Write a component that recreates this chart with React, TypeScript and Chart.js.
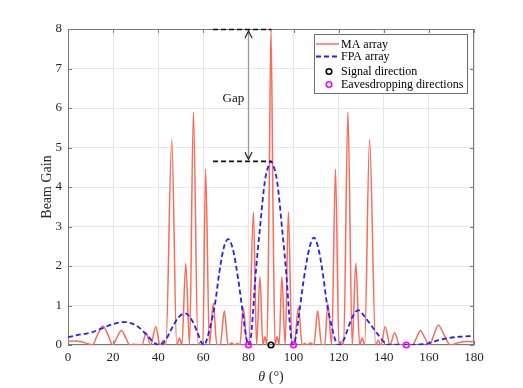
import React, { useEffect, useRef } from "react";
import { Chart, registerables } from "chart.js";

Chart.register(...registerables);

// ---- data ----
const MA_THETA = [
  0, 3, 6, 9, 10.8, 13, 15.5, 17.8, 19.8, 21.6, 23.7, 25.6, 27.3, 29, 31, 32.8,
  34.6, 36.7, 38.9, 40.8, 42.3, 43.4, 46.0, 48.2, 49.4, 50.5, 52.2, 53.9, 55.6, 57.6,
  58.8, 59.8, 61.0, 62.7, 64.4, 66.0, 67.5, 69.3, 71.0, 72.5, 74.0, 75.0, 76.2, 77.7,
  79.4, 80.2, 82.2, 83.6, 85.1, 86.4, 87.3, 88.2, 89.1, 90, 90.9, 91.8, 92.7, 93.6,
  94.8, 96.3, 97.7, 99.3, 100.2, 102.2, 103.8, 105.0, 106.0, 107.5, 109.0, 110.7,
  112.4, 113.8, 115.2, 116.9, 118.6, 120.1, 121.1, 122.2, 124.1, 126.0, 127.6, 129.3,
  130.4, 131.5, 133.7, 136.4, 137.5, 138.8, 140.6, 142.8, 144.8, 147.0, 149.0, 151.0,
  152.7, 154.5, 156.2, 158.2, 160.2, 162.2, 164.2, 166.8, 169.5, 172, 175, 177.5, 180,
];
const MA_GAIN = [
  0.09, 0.1, 0.08, 0.03, 0, 0.25, 0.48, 0.25, 0, 0.18, 0.37, 0.18, 0, 0.02, 0.01, 0,
  0.31, 0, 0.46, 0, 0.12, 0, 5.2, 0, 0.18, 0, 2.07, 0, 5.9, 0,
  0.08, 0, 4.45, 0, 1.05, 0, 0, 0.86, 0, 0.05, 0, 0.04, 0, 0.95,
  0, 0, 3.37, 0, 1.73, 0, 0.21, 0, 3.4, 8.0, 3.4, 0, 0.21, 0,
  1.73, 0, 3.37, 0, 0, 0.95, 0, 0.04, 0, 0.05, 0, 0.86,
  0, 0, 1.05, 0, 4.45, 0, 0.08, 0, 5.9, 0, 2.07, 0,
  0.18, 0, 5.2, 0, 0.12, 0, 0.46, 0, 0.31, 0, 0.01, 0.02,
  0, 0.18, 0.37, 0.18, 0, 0.25, 0.5, 0.25, 0, 0.04, 0.08, 0.09, 0.08,
];
const FPA_THETA = [
  0, 5, 10, 15, 20, 25, 29, 32, 35, 38, 40.5, 43, 46, 49, 52, 55, 57.5, 59, 60.2,
  61, 63, 65.2, 67, 69, 71, 73, 75.5, 77.5, 79, 80, 81, 82, 83, 85, 87.3, 89, 90,
  91, 92.7, 95, 97, 98, 99, 100, 101, 102.5, 104.5, 107, 109, 111, 113, 114.8, 117,
  119, 120.3, 122, 124, 126, 128.7, 131.5, 135, 138, 140, 141.5, 145, 150, 155, 159,
  163, 168, 174, 180,
];
const FPA_GAIN = [
  0.2, 0.26, 0.31, 0.42, 0.53, 0.58, 0.53, 0.42, 0.25, 0.07, 0, 0.1, 0.42, 0.7, 0.8, 0.62, 0.3, 0.08, 0,
  0.05, 0.45, 1.05, 1.8, 2.45, 2.68, 2.45, 1.65, 0.8, 0.2, 0, 0.15, 0.8, 1.65, 2.9, 4.15, 4.55, 4.65,
  4.55, 4.15, 2.9, 1.65, 0.8, 0.15, 0, 0.2, 0.8, 1.65, 2.45, 2.72, 2.45, 1.8, 1.05, 0.45,
  0.05, 0, 0.1, 0.4, 0.7, 0.88, 0.72, 0.45, 0.22, 0.08, 0.01, 0.01, 0, 0.01, 0.03,
  0.1, 0.17, 0.21, 0.23,
];
const SIGNAL_THETA = [90];
const SIGNAL_GAIN = [0];
const EAVES_THETA = [80, 100, 150];
const EAVES_GAIN = [0, 0, 0];
const X_TICKS = [0, 20, 40, 60, 80, 100, 120, 140, 160, 180];
const Y_TICKS = [0, 1, 2, 3, 4, 5, 6, 7, 8];
const GAP_TOP = 8;
const GAP_LOW = 4.65;
const GAP_FROM = 64.3;
const GAP_TO = 90.2;
const GAP_ARROW_AT = 79.8;
const GAP_LABEL_AT = [73.3, 6.23];
const LEGEND_LABELS = ["MA array", "FPA array", "Signal direction", "Eavesdropping directions"];
const X_TITLE = ["θ", " (°)"];
const Y_TITLE = "Beam Gain";

// ---- styles ----
const RED = "#fb6b58";
const BLUE = "#1f1fff";
const MAGENTA = "#ff00ff";
const AXIS = "#7a7a7a";
const GRID = "#e6e6e6";
const TXT = "#262626";
const SERIF = "'Liberation Serif', 'Times New Roman', serif";

const pts = (xs: number[], ys: number[]) => xs.map((x, i) => ({ x, y: ys[i] }));

const decor = {
  id: "decor",
  beforeDatasetsDraw(chart: any) {
    const { ctx, chartArea: a, scales } = chart;
    const x = scales.x, y = scales.y;
    ctx.save();
    ctx.strokeStyle = AXIS;
    ctx.lineWidth = 1;
    ctx.beginPath();
    for (const v of X_TICKS) {
      const px = Math.round(x.getPixelForValue(v)) + 0.5;
      ctx.moveTo(px, a.bottom);
      ctx.lineTo(px, a.bottom - 4);
      ctx.moveTo(px, a.top);
      ctx.lineTo(px, a.top + 4);
    }
    for (const v of Y_TICKS) {
      const py = Math.round(y.getPixelForValue(v)) + 0.5;
      ctx.moveTo(a.left, py);
      ctx.lineTo(a.left + 4, py);
      ctx.moveTo(a.right, py);
      ctx.lineTo(a.right - 4, py);
    }
    ctx.stroke();
    ctx.strokeRect(a.left + 0.5, a.top + 0.5, a.right - a.left - 1, a.bottom - a.top - 1);
    ctx.restore();
  },
  afterDatasetsDraw(chart: any) {
    const { ctx, chartArea: a, scales } = chart;
    const x = scales.x, y = scales.y;
    ctx.save();
    // gap dashed lines
    const x0 = x.getPixelForValue(GAP_FROM);
    const x1 = x.getPixelForValue(GAP_TO);
    const yt = y.getPixelForValue(GAP_TOP);
    const yl = y.getPixelForValue(GAP_LOW);
    ctx.strokeStyle = "#111";
    ctx.lineWidth = 1.6;
    ctx.setLineDash([5, 3]);
    ctx.beginPath();
    ctx.moveTo(x0, yt + 0.5);
    ctx.lineTo(x1, yt + 0.5);
    ctx.moveTo(x0, yl);
    ctx.lineTo(x1, yl);
    ctx.stroke();
    ctx.setLineDash([]);
    // double arrow
    const xa = Math.round(x.getPixelForValue(GAP_ARROW_AT)) + 0.5;
    ctx.strokeStyle = "#9a9a9a";
    ctx.lineWidth = 1.3;
    ctx.beginPath();
    ctx.moveTo(xa, yt + 2);
    ctx.lineTo(xa, yl - 2);
    ctx.stroke();
    ctx.strokeStyle = "#222";
    ctx.lineWidth = 1.2;
    ctx.beginPath();
    ctx.moveTo(xa - 3.5, yt + 9);
    ctx.lineTo(xa, yt + 2);
    ctx.lineTo(xa + 3.5, yt + 9);
    ctx.moveTo(xa - 3.5, yl - 9);
    ctx.lineTo(xa, yl - 2);
    ctx.lineTo(xa + 3.5, yl - 9);
    ctx.stroke();
    // Gap label
    ctx.fillStyle = "#111";
    ctx.font = `13px ${SERIF}`;
    ctx.textAlign = "center";
    ctx.textBaseline = "middle";
    ctx.fillText("Gap", x.getPixelForValue(GAP_LABEL_AT[0]), y.getPixelForValue(GAP_LABEL_AT[1]));

    // legend
    const bx = 314, by = 34, bw = 153, bh = 59;
    ctx.fillStyle = "#fff";
    ctx.fillRect(bx, by, bw, bh);
    ctx.strokeStyle = "#6f6f6f";
    ctx.lineWidth = 1;
    ctx.strokeRect(bx + 0.5, by + 0.5, bw, bh);
    const rows = [44, 56.5, 71.5, 84.5];
    const lx0 = 316, lx1 = 339, mx = 329, tx = 341;
    ctx.lineWidth = 1.5;
    ctx.strokeStyle = RED;
    ctx.beginPath();
    ctx.moveTo(lx0, rows[0]);
    ctx.lineTo(lx1, rows[0]);
    ctx.stroke();
    ctx.strokeStyle = BLUE;
    ctx.lineWidth = 1.8;
    ctx.setLineDash([5, 3]);
    ctx.beginPath();
    ctx.moveTo(lx0, rows[1]);
    ctx.lineTo(lx1, rows[1]);
    ctx.stroke();
    ctx.setLineDash([]);
    ctx.lineWidth = 1.6;
    ctx.strokeStyle = "#000";
    ctx.beginPath();
    ctx.arc(mx, rows[2], 2.8, 0, Math.PI * 2);
    ctx.stroke();
    ctx.strokeStyle = MAGENTA;
    ctx.beginPath();
    ctx.arc(mx, rows[3], 2.8, 0, Math.PI * 2);
    ctx.stroke();
    ctx.fillStyle = "#000";
    ctx.font = `12px ${SERIF}`;
    ctx.textAlign = "left";
    ctx.textBaseline = "middle";
    LEGEND_LABELS.forEach((t, i) => ctx.fillText(t, tx, rows[i] + 0.5));

    // axis titles
    ctx.fillStyle = TXT;
    const cx = (a.left + a.right) / 2;
    ctx.font = `italic 14px ${SERIF}`;
    const w0 = ctx.measureText(X_TITLE[0]).width;
    ctx.font = `14px ${SERIF}`;
    const w1 = ctx.measureText(X_TITLE[1]).width;
    const sx = cx - (w0 + w1) / 2;
    ctx.textAlign = "left";
    ctx.font = `italic 14px ${SERIF}`;
    ctx.fillText(X_TITLE[0], sx, 377);
    ctx.font = `14px ${SERIF}`;
    ctx.fillText(X_TITLE[1], sx + w0, 377);
    ctx.save();
    ctx.translate(47, (a.top + a.bottom) / 2);
    ctx.rotate(-Math.PI / 2);
    ctx.textAlign = "center";
    ctx.fillText(Y_TITLE, 0, 0);
    ctx.restore();
    ctx.restore();
  },
};

export default function App() {
  const ref = useRef<HTMLCanvasElement | null>(null);
  useEffect(() => {
    if (!ref.current) return;
    const tickFont = { family: SERIF, size: 13 };
    const chart = new Chart(ref.current, {
      type: "line",
      data: {
        datasets: [
          {
            label: "Signal direction",
            data: pts(SIGNAL_THETA, SIGNAL_GAIN),
            showLine: false,
            pointRadius: 2.8,
            pointBorderWidth: 1.6,
            pointBorderColor: "#000",
            pointBackgroundColor: "rgba(0,0,0,0)",
            clip: false,
            order: 0,
          },
          {
            label: "Eavesdropping directions",
            data: pts(EAVES_THETA, EAVES_GAIN),
            showLine: false,
            pointRadius: 2.8,
            pointBorderWidth: 1.6,
            pointBorderColor: MAGENTA,
            pointBackgroundColor: "rgba(0,0,0,0)",
            clip: false,
            order: 1,
          },
          {
            label: "FPA array",
            data: pts(FPA_THETA, FPA_GAIN),
            borderColor: BLUE,
            borderWidth: 1.8,
            borderDash: [5, 3],
            pointRadius: 0,
            cubicInterpolationMode: "monotone",
            fill: false,
            order: 2,
          },
          {
            label: "MA array",
            data: pts(MA_THETA, MA_GAIN),
            borderColor: RED,
            borderWidth: 1.5,
            pointRadius: 0,
            cubicInterpolationMode: "monotone",
            fill: false,
            order: 3,
          },
        ],
      } as any,
      options: {
        animation: false,
        responsive: false,
        events: [],
        layout: { padding: { top: 29, right: 49, left: 0, bottom: 0 } },
        plugins: { legend: { display: false }, tooltip: { enabled: false } },
        scales: {
          x: {
            type: "linear",
            min: 0,
            max: 180,
            afterBuildTicks: (s: any) => {
              s.ticks = X_TICKS.map((v) => ({ value: v }));
            },
            afterFit: (s: any) => {
              s.height = 43;
            },
            grid: { color: GRID, drawTicks: false },
            border: { display: false },
            ticks: { padding: 5, font: tickFont, color: TXT, maxRotation: 0, autoSkip: false },
          },
          y: {
            type: "linear",
            min: 0,
            max: 8,
            afterBuildTicks: (s: any) => {
              s.ticks = Y_TICKS.map((v) => ({ value: v }));
            },
            afterFit: (s: any) => {
              s.width = 68;
            },
            grid: { color: GRID, drawTicks: false },
            border: { display: false },
            ticks: { padding: 6, font: tickFont, color: TXT, autoSkip: false },
          },
        },
      } as any,
      plugins: [decor],
    });
    return () => chart.destroy();
  }, []);
  return (
    <div style={{ position: "absolute", left: 0, top: 0, width: 523, height: 388, background: "#fff" }}>
      <canvas ref={ref} width={523} height={388} style={{ display: "block" }} />
    </div>
  );
}
